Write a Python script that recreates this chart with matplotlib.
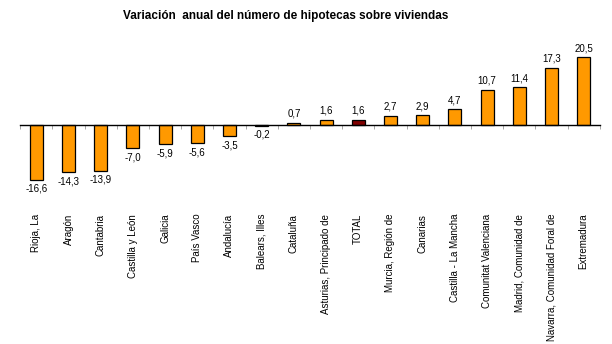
import matplotlib
matplotlib.use('Agg')
import matplotlib.pyplot as plt
import numpy as np

plt.rcParams['font.family'] = ['Liberation Sans', 'DejaVu Sans']

regions = ['Rioja, La', 'Aragón', 'Cantabria', 'Castilla y León', 'Galicia',
           'País Vasco', 'Andalucía', 'Balears, Illes', 'Cataluña',
           'Asturias, Principado de', 'TOTAL', 'Murcia, Región de', 'Canarias',
           'Castilla - La Mancha', 'Comunitat Valenciana', 'Madrid, Comunidad de',
           'Navarra, Comunidad Foral de', 'Extremadura']
values = [-16.6, -14.3, -13.9, -7.0, -5.9, -5.6, -3.5, -0.2, 0.7,
          1.6, 1.6, 2.7, 2.9, 4.7, 10.7, 11.4, 17.3, 20.5]

fig = plt.figure(figsize=(6.12, 3.44), dpi=100)
ax = fig.add_axes([0.033, 0.448, 0.947, 0.421])

x = np.arange(len(regions))
colors = ['#800000' if r == 'TOTAL' else '#FF9900' for r in regions]
ax.bar(x, values, width=0.4, color=colors, edgecolor='black', linewidth=0.9, zorder=3)

for xi, v in zip(x, values):
    txt = ('%.1f' % v).replace('.', ',')
    if v >= 0:
        ax.annotate(txt, (xi, v), xytext=(0, 3), textcoords='offset points',
                    ha='center', va='bottom', fontsize=7)
    else:
        ax.annotate(txt, (xi, v), xytext=(0, -3), textcoords='offset points',
                    ha='center', va='top', fontsize=7)

ax.set_xlim(-0.5, len(regions) - 0.5)
ax.set_ylim(-19.7, 24.2)
for s in ['top', 'right', 'left']:
    ax.spines[s].set_visible(False)
ax.spines['bottom'].set_position(('data', 0))
ax.spines['bottom'].set_linewidth(1.0)
ax.spines['bottom'].set_zorder(4)
ax.set_yticks([])

ax.set_xticks(x)
ax.set_xticklabels(regions, rotation=90, fontsize=7, va='top')
ax.tick_params(axis='x', which='major', length=0, pad=64)
ax.set_xticks(np.arange(-0.5, len(regions)), minor=True)
ax.tick_params(axis='x', which='minor', length=3, color='#999999', direction='out')

fig.text(0.466, 0.953, 'Variación  anual del número de hipotecas sobre viviendas',
         ha='center', va='center', fontsize=8.5, fontweight='bold')

fig.savefig('out.png', dpi=100)
